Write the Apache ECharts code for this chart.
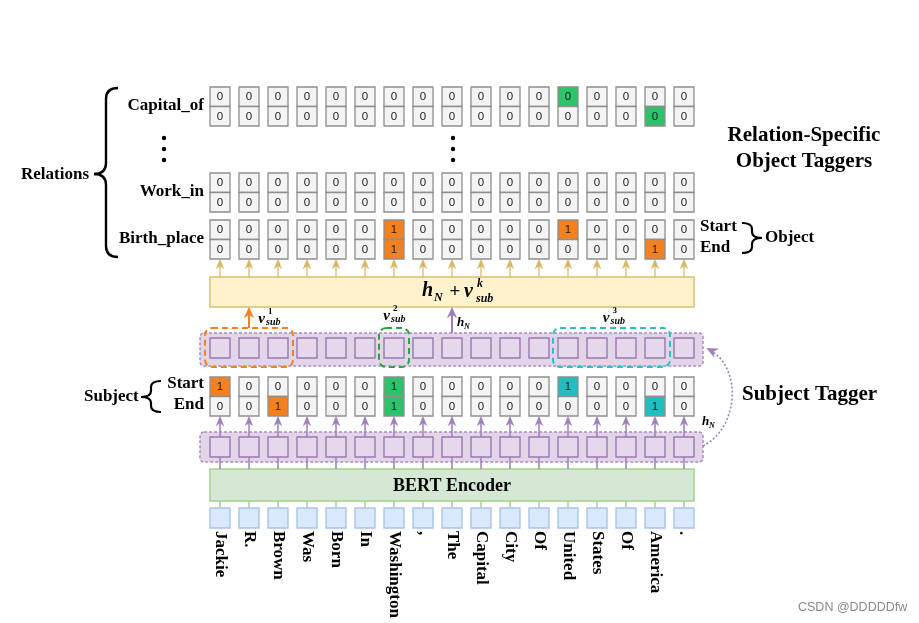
<!DOCTYPE html>
<html><head><meta charset="utf-8">
<script src="https://cdn.jsdelivr.net/npm/echarts@6/dist/echarts.min.js"></script>
<style>html,body{margin:0;padding:0;background:#fff}#c{width:919px;height:623px}</style>
</head><body><div id="c"></div>
<script>
// ---------------- data ----------------
const tokens = ['Jackie','R.','Brown','Was','Born','In','Washington',',','The','Capital','City','Of','United','States','Of','America','.'];
const relations = ['Capital_of','Work_in','Birth_place'];
// object tagger values (start / end) per relation
const capitalOfStart = [0,0,0,0,0,0,0,0,0,0,0,0,0,0,0,0,0];
const capitalOfEnd   = [0,0,0,0,0,0,0,0,0,0,0,0,0,0,0,0,0];
const capitalOfMarkStart = [0,0,0,0,0,0,0,0,0,0,0,0,1,0,0,0,0];
const capitalOfMarkEnd   = [0,0,0,0,0,0,0,0,0,0,0,0,0,0,0,1,0];
const workInStart = [0,0,0,0,0,0,0,0,0,0,0,0,0,0,0,0,0];
const workInEnd   = [0,0,0,0,0,0,0,0,0,0,0,0,0,0,0,0,0];
const birthPlaceStart = [0,0,0,0,0,0,1,0,0,0,0,0,1,0,0,0,0];
const birthPlaceEnd   = [0,0,0,0,0,0,1,0,0,0,0,0,0,0,0,1,0];
// subject tagger values
const subjectStart = [1,0,0,0,0,0,1,0,0,0,0,0,1,0,0,0,0];
const subjectEnd   = [0,0,1,0,0,0,1,0,0,0,0,0,0,0,0,1,0];
// subject spans [first token, last token]
const subjectSpans = [[0,2],[6,6],[12,15]];
const spanSupLabels = ['1','2','3'];
// which subject span each relation row belongs to (-1 = none)
const relationSubject = [1,-1,0];

// ---------------- styles / layout ----------------
const W = 919, H = 623, COL0 = 220, PITCH = 29;
const ORANGE = '#f5801f', GREEN = '#2dc36a', CYAN = '#1fbfc1';
const SPAN_DASH = ['#f5801f', '#2aa43c', '#2cc1c9'];
const CELL_FILL = '#f4f4f4', CELL_STROKE = '#8f8f8f';
const GOLD = '#d9b562', PURPLE = '#9f7fba', BAND_FILL = '#e1d5e7', SQ_FILL = '#e4d8ea';
const SERIF = '"Liberation Serif","Times New Roman",serif';
const PX = {cap:87, work:173, birth:220, subj:377, cellH:39, cellW:20,
  yellowTop:277, yellowBot:307, bandUTop:333, bandUBot:366, sqU:338,
  bandLTop:432, bandLBot:462, sqL:437, bertTop:469, bertBot:501, tokTop:508, labelTop:531,
  dashTop:328, dashBot:367};
const relRowTop = [PX.cap, PX.work, PX.birth];
const relStart = [capitalOfStart, workInStart, birthPlaceStart];
const relEnd = [capitalOfEnd, workInEnd, birthPlaceEnd];
const relMarkStart = [capitalOfMarkStart, null, birthPlaceStart];
const relMarkEnd = [capitalOfMarkEnd, null, birthPlaceEnd];

function spanOf(i){ for (let k=0;k<subjectSpans.length;k++){ if(i>=subjectSpans[k][0]&&i<=subjectSpans[k][1]) return k; } return -1; }
const PALETTE = ['', ORANGE, GREEN, CYAN];

// cell data: [col, top, startVal, endVal, startColorIdx, endColorIdx]
const cellData = [];
relations.forEach((r, ri) => {
  tokens.forEach((t, i) => {
    const ms = relMarkStart[ri] ? relMarkStart[ri][i] : 0;
    const me = relMarkEnd[ri] ? relMarkEnd[ri][i] : 0;
    const ci = relationSubject[ri] + 1;
    cellData.push([i, relRowTop[ri], relStart[ri][i], relEnd[ri][i], ms ? ci : 0, me ? ci : 0]);
  });
});
tokens.forEach((t, i) => {
  const ci = spanOf(i) + 1;
  cellData.push([i, PX.subj, subjectStart[i], subjectEnd[i], subjectStart[i] ? ci : 0, subjectEnd[i] ? ci : 0]);
});

// ---------------- helpers ----------------
function tx(text, x, y, font, opt){
  opt = opt || {};
  return {type:'text', x:x, y:y, rotation:opt.rot||0,
    style:{text:text, font:font, fill:opt.fill||'#000', align:opt.align||'left', textAlign:opt.align||'left',
      verticalAlign:opt.va||'middle', textVerticalAlign:opt.va||'middle'}};
}
function line(x1,y1,x2,y2,color,w,dash){
  return {type:'line', shape:{x1,y1,x2,y2}, style:{stroke:color, lineWidth:w||1, lineDash:dash||null}};
}
function head(tx_, ty, dx, dy, color, len, half){
  len = len||9; half = half||3.6;
  const l = Math.hypot(dx,dy), ux = dx/l, uy = dy/l, px = -uy, py = ux;
  const bx = tx_-ux*len, by = ty-uy*len;
  return {type:'polygon', shape:{points:[[tx_,ty],[bx+px*half,by+py*half],[tx_-ux*len*0.7,ty-uy*len*0.7],[bx-px*half,by-py*half]]},
    style:{fill:color, stroke:color, lineWidth:0.6}};
}
function rect(x,y,w,h,fill,stroke,lw,r,dash){
  return {type:'rect', shape:{x,y,width:w,height:h,r:r||0}, style:{fill:fill, stroke:stroke, lineWidth:lw||1, lineDash:dash||null}};
}
function vLabel(xSup, vMid, sup){
  const bi = 'italic bold ';
  return [
    tx('v', xSup-3, vMid, bi+'15px '+SERIF, {align:'right'}),
    tx(sup, xSup, vMid-7, 'bold 9px '+SERIF),
    tx('sub', xSup-2, vMid+3, bi+'10px '+SERIF)
  ];
}
// curly brace made of quadratic curves and lines
function brace(xV, xHook, xTip, yTop, yMid, yBot, r, lw){
  const st = {stroke:'#000', lineWidth:lw, fill:null};
  const q = (x1,y1,cx,cy,x2,y2) => ({type:'bezierCurve', shape:{x1,y1,cpx1:cx,cpy1:cy,x2,y2}, style:st});
  const l = (x1,y1,x2,y2) => ({type:'line', shape:{x1,y1,x2,y2}, style:st});
  return [
    q(xHook,yTop, xV,yTop, xV,yTop+r),
    l(xV,yTop+r, xV,yMid-r),
    q(xV,yMid-r, xV,yMid, xTip,yMid),
    q(xTip,yMid, xV,yMid, xV,yMid+r),
    l(xV,yMid+r, xV,yBot-r),
    q(xV,yBot-r, xV,yBot, xHook,yBot)
  ];
}

// ---------------- render functions ----------------
function renderBack(params, api){
  const x0 = api.coord([0,0])[0], x1 = api.coord([tokens.length-1,0])[0];
  const ch = [];
  ch.push(rect(x0-20, PX.bandUTop, (x1+19)-(x0-20), PX.bandUBot-PX.bandUTop, BAND_FILL, '#a98cc2', 1.5, 4, [3,2]));
  ch.push(rect(x0-20, PX.bandLTop, (x1+19)-(x0-20), PX.bandLBot-PX.bandLTop, BAND_FILL, '#a98cc2', 1.5, 4, [3,2]));
  ch.push(rect(x0-10, PX.yellowTop, (x1+10)-(x0-10), PX.yellowBot-PX.yellowTop, '#fff2cc', '#dcc070', 1.5));
  ch.push(rect(x0-10, PX.bertTop, (x1+10)-(x0-10), PX.bertBot-PX.bertTop, '#d5e8d4', '#a3d18f', 1.5));
  ch.push(tx('BERT Encoder', (x0+x1)/2, (PX.bertTop+PX.bertBot)/2+1, 'bold 18px '+SERIF, {align:'center'}));
  // formula h_N + v^k_sub
  const fx = (x0+x1)/2 - 30, fy = 291;
  const bi = 'italic bold ';
  ch.push(tx('h', fx, fy, bi+'20px '+SERIF));
  ch.push(tx('N', fx+12, fy+7, bi+'12px '+SERIF));
  ch.push(tx('+', fx+33, fy+1, 'bold 19px '+SERIF, {align:'center'}));
  ch.push(tx('v', fx+42, fy+1, bi+'20px '+SERIF));
  ch.push(tx('k', fx+55, fy-7, bi+'12px '+SERIF));
  ch.push(tx('sub', fx+54, fy+8, bi+'12px '+SERIF));
  return {type:'group', children:ch};
}

function renderColumn(params, api){
  const i = api.value(0);
  const x = api.coord([i,0])[0];
  const w = PX.cellW, ch = [];
  const birthBot = PX.birth + PX.cellH, subjBot = PX.subj + PX.cellH;
  ch.push(line(x, PX.yellowTop, x, birthBot+6, GOLD, 1.2));
  ch.push(head(x, birthBot+0.5, 0, -1, GOLD));
  ch.push(line(x, PX.bertTop, x, subjBot+6, PURPLE, 1.5));
  ch.push(head(x, subjBot+0.5, 0, -1, PURPLE));
  ch.push(rect(x-w/2, PX.sqL, w, w, SQ_FILL, '#9b78b3', 1.4));
  ch.push(rect(x-w/2, PX.sqU, w, w, SQ_FILL, '#9b78b3', 1.4));
  ch.push(line(x, PX.bertBot, x, PX.tokTop, '#a3d18f', 1.5));
  ch.push(rect(x-w/2, PX.tokTop, w, w, '#dae8fc', '#a9c4eb', 1.4));
  ch.push(tx(tokens[i], x, PX.labelTop, 'bold 17px '+SERIF, {rot:-Math.PI/2}));
  return {type:'group', children:ch};
}

function renderCell(params, api){
  const p = api.coord([api.value(0), api.value(1)]);
  const w = PX.cellW, h = PX.cellH/2, x = p[0]-w/2, y = p[1];
  const fs = PALETTE[api.value(4)] || CELL_FILL, fe = PALETTE[api.value(5)] || CELL_FILL;
  const font = '11.5px "Liberation Sans",Arial,sans-serif';
  return {type:'group', children:[
    rect(x, y, w, h, fs, CELL_STROKE, 1.3),
    rect(x, y+h, w, h, fe, CELL_STROKE, 1.3),
    tx(String(api.value(2)), p[0], y+h/2+0.5, font, {align:'center', fill:'#222'}),
    tx(String(api.value(3)), p[0], y+h+h/2+0.5, font, {align:'center', fill:'#222'})
  ]};
}

function renderFront(params, api){
  const c = i => api.coord([i,0])[0];
  const ch = [];
  subjectSpans.forEach((s, k) => {
    const a = c(s[0])-15, b = c(s[1])+15;
    ch.push(rect(a, PX.dashTop, b-a, PX.dashBot-PX.dashTop, null, SPAN_DASH[k], 2, 7, [6,4]));
  });
  const s0 = subjectSpans[0], ax = c((s0[0]+s0[1])/2);
  ch.push(line(ax, PX.dashTop, ax, PX.yellowBot+6, ORANGE, 2));
  ch.push(head(ax, PX.yellowBot+0.5, 0, -1, ORANGE, 10, 4.5));
  ch.push.apply(ch, vLabel(ax+19, 319, spanSupLabels[0]));
  const s1 = subjectSpans[1], s2 = subjectSpans[2];
  ch.push.apply(ch, vLabel(c((s1[0]+s1[1])/2)-1, 316, spanSupLabels[1]));
  ch.push.apply(ch, vLabel(c((s2[0]+s2[1])/2)+1, 318, spanSupLabels[2]));
  const hx = c(8);
  ch.push(line(hx, PX.bandUTop, hx, PX.yellowBot+6, PURPLE, 2));
  ch.push(head(hx, PX.yellowBot+0.5, 0, -1, PURPLE, 10, 4.5));
  ch.push(tx('h', hx+5, 323, 'italic bold 13px '+SERIF));
  ch.push(tx('N', hx+12, 327, 'italic bold 8px '+SERIF));
  [138,149,160].forEach(y => ch.push({type:'circle', shape:{cx:hx+1, cy:y, r:2.2}, style:{fill:'#000'}}));
  const rx = c(tokens.length-1) + 19;
  ch.push({type:'bezierCurve', shape:{x1:rx, y1:446, cpx1:rx+36, cpy1:428, cpx2:rx+40, cpy2:366, x2:rx+5, y2:349},
    style:{stroke:PURPLE, lineWidth:1.6, lineDash:[2,2], fill:null}});
  ch.push(head(rx+4, 348.5, -35, -17, PURPLE, 10, 4.5));
  ch.push(tx('h', rx-1, 422, 'italic bold 13px '+SERIF));
  ch.push(tx('N', rx+6, 426, 'italic bold 8px '+SERIF));
  return {type:'group', children:ch};
}

// ---------------- fixed annotations ----------------
const B = 'bold 17px '+SERIF, BIG = 'bold 21px '+SERIF;
function gtext(text, x, y, font, align, fill){
  return {type:'text', x:x, y:y, silent:true,
    style:{text:text, font:font, fill:fill||'#000', align:align||'left', textAlign:align||'left', verticalAlign:'middle', textVerticalAlign:'middle'}};
}
const graphics = [
  gtext('Relations', 21, 175, B),
  gtext(relations[0], 204, 106, B, 'right'),
  gtext(relations[1], 204, 192, B, 'right'),
  gtext(relations[2], 204, 239, B, 'right'),
  {type:'circle', shape:{cx:164, cy:138, r:2.2}, style:{fill:'#000'}},
  {type:'circle', shape:{cx:164, cy:149, r:2.2}, style:{fill:'#000'}},
  {type:'circle', shape:{cx:164, cy:160, r:2.2}, style:{fill:'#000'}},
  gtext('Start', 700, 227, B),
  gtext('End', 700, 248, B),
  gtext('Object', 765, 238, B),
  gtext('Relation-Specific', 804, 136, BIG, 'center'),
  gtext('Object Taggers', 804, 162, BIG, 'center'),
  gtext('Subject Tagger', 742, 395, BIG),
  gtext('Subject', 84, 397, B),
  gtext('Start', 204, 384, B, 'right'),
  gtext('End', 204, 405, B, 'right'),
  gtext('CSDN @DDDDDfw', 798, 608, '12.5px "Liberation Sans",Arial,sans-serif', 'left', '#8a8a8a')
].concat(
  brace(106, 118, 94, 88, 174, 257, 11, 2.4),
  brace(151, 161, 141, 381, 397, 412, 6, 2.2),
  brace(752, 742, 762, 223, 238, 253, 6, 2.2)
);

// ---------------- chart ----------------
const chart = echarts.init(document.getElementById('c'), null, {renderer:'canvas'});
chart.setOption({
  animation:false,
  backgroundColor:'#ffffff',
  grid:{left:0, right:0, top:0, bottom:0, containLabel:false},
  xAxis:{type:'value', min:-COL0/PITCH, max:(W-COL0)/PITCH, show:false},
  yAxis:{type:'value', min:0, max:H, inverse:true, show:false},
  graphic:graphics,
  series:[
    {type:'custom', name:'frames', data:[[0]], renderItem:renderBack, silent:true, z:1},
    {type:'custom', name:'columns', data:tokens.map((t,i)=>[i]), renderItem:renderColumn, silent:true, z:2},
    {type:'custom', name:'cells', data:cellData, renderItem:renderCell, silent:true, z:3},
    {type:'custom', name:'annotations', data:[[0]], renderItem:renderFront, silent:true, z:4}
  ]
});
</script></body></html>
